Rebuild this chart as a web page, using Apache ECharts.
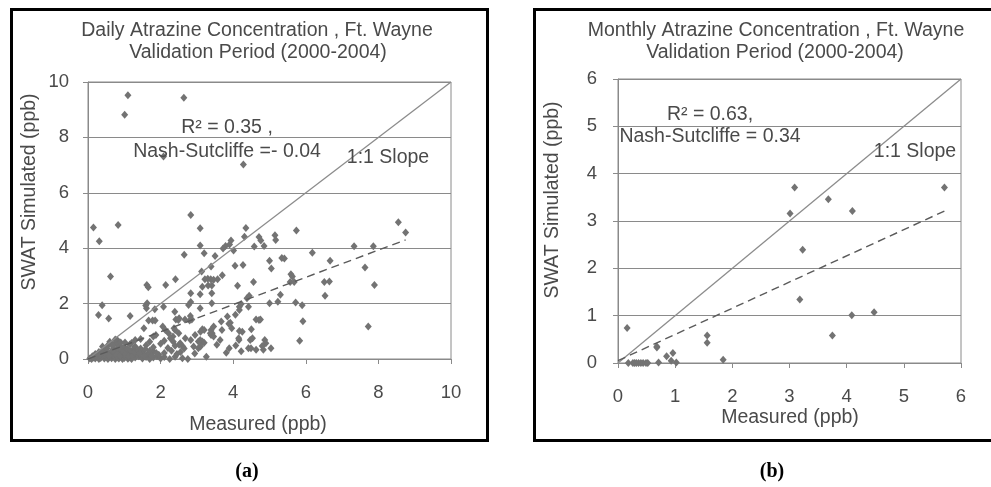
<!DOCTYPE html>
<html>
<head>
<meta charset="utf-8">
<script src="https://cdn.jsdelivr.net/npm/echarts@6/dist/echarts.min.js"></script>
<style>
html,body{margin:0;padding:0;background:#fff;}
#c{width:991px;height:487px;}
</style>
</head>
<body>
<div id="c"></div>
<script>
// ---------- DATA ----------
var dailyTicksX = [0, 2, 4, 6, 8, 10];
var dailyTicksY = [0, 2, 4, 6, 8, 10];
var monthlyTicks = [0, 1, 2, 3, 4, 5, 6];

var dailyPoints = [
  [1.10,9.52],[1.01,8.82],[2.64,9.43],[2.08,7.31],[4.28,7.02],
  [0.15,4.75],[0.31,4.25],[0.83,4.84],[0.62,2.98],[0.39,1.94],[0.29,1.59],[0.57,1.46],[1.16,1.55],
  [2.83,5.2],[3.09,4.72],[4.35,4.73],[4.31,4.41],[5.74,4.64],[5.15,4.47],[5.17,4.3],[4.71,4.4],[4.76,4.28],[4.85,4.08],[4.58,4.06],
  [3.94,4.28],[3.9,4.13],[3.79,4.08],[3.72,3.99],[4.01,3.92],[3.09,4.1],[3.2,3.82],[2.65,3.76],[3.5,3.72],[4.05,3.37],[4.27,3.39],[3.39,3.34],[3.13,3.16],
  [3.22,2.88],[3.3,2.9],[3.38,2.88],[3.46,2.86],[3.15,2.61],[3.31,2.65],[3.41,2.65],[3.7,3.02],[3.57,2.88],[4.12,2.64],[4.56,2.78],
  [5.0,3.55],[5.05,3.27],[5.34,3.65],[5.41,3.63],[5.59,3.06],[5.63,2.98],[5.57,2.78],[5.68,2.78],[6.18,3.84],[6.67,3.55],[6.51,2.78],[6.65,2.8],[6.53,2.28],
  [7.33,4.07],[7.86,4.07],[8.55,4.94],[8.75,4.57],[7.63,3.3],[7.89,2.67],[7.72,1.17],
  [5.72,2.04],[5.9,1.94],[5.92,1.36],[5.83,0.66],[5.0,2.01],[5.23,2.07],[5.3,2.32],[4.38,2.19],[4.44,2.28],[4.17,1.89],[4.22,1.99],[4.17,1.77],[4.42,1.89],[4.06,1.6],[3.92,1.31],[4.5,1.07],[4.17,1.01],[4.25,0.98],[4.63,1.43],[4.71,1.41],[4.75,1.43],[4.53,0.75],[4.16,0.69],[4.07,0.49],[4.22,0.28],[4.42,0.39],[4.49,0.39],[4.63,0.33],[4.83,0.33],[4.87,0.69],[4.9,0.57],[5.04,0.39],[4.8,0.47],
  [3.84,1.53],[3.88,1.27],[3.67,1.35],[3.64,0.69],[3.81,0.23],[3.89,0.39],[3.55,0.51],[3.42,0.93],[3.39,0.87],[3.15,1.07],[3.2,1.05],[3.1,0.98],[3.09,0.69],[3.15,0.63],[3.2,0.59],[3.04,0.39],[3.1,0.45],[3.26,0.08],[2.75,0.0],[2.94,0.2],[2.91,0.45],[2.83,0.69],
  [3.09,1.83],[3.09,2.34],[2.83,2.37],[2.83,2.06],[2.77,1.95],[2.86,1.43],[2.8,1.39],[2.67,1.43],[2.39,1.71],[2.41,2.88],[2.14,2.67],[2.08,1.89],[2.06,1.17],
  [1.62,2.67],[1.66,2.59],[1.59,1.93],[1.63,2.01],[1.61,1.83],[1.84,1.8],[1.54,1.11],[1.67,1.39],[1.78,1.39],[1.85,1.39],[2.22,0.93],[2.37,1.11],[2.5,0.93],[2.34,0.81],[2.27,0.75],[2.51,0.51],[2.61,0.45],
  [3.41,2.01],[3.41,2.37],[3.46,1.17],[3.39,1.05],[2.42,1.43],[2.51,1.47],[2.82,1.55],
  [2.13,1.05],[2.4,1.05],[2.49,1.41],[0.8,0.69],[0.84,0.63],[1.3,0.69],[1.8,0.81],[1.87,0.87],[2.68,0.75],[2.54,0.57],[2.95,0.87],[3.04,0.63],
  [3.37,0.93],[3.46,0.81],[3.69,1.05],[3.96,1.11],[4.15,0.75],[4.47,0.69],
  [0.05,0.02],[0.1,0.0],[0.15,0.05],[0.2,0.02],[0.25,0.08],[0.3,0.0],[0.35,0.04],[0.4,0.1],[0.45,0.02],[0.5,0.06],[0.55,0.0],[0.6,0.08],[0.65,0.03],[0.7,0.1],[0.75,0.0],[0.8,0.05],[0.85,0.02],[0.9,0.09],[0.95,0.0],[1.0,0.04],[1.05,0.08],[1.1,0.01],[1.15,0.06],[1.2,0.0],[1.3,0.05],[1.4,0.1],[1.5,0.02],[1.6,0.07],[1.7,0.0],[1.8,0.05],[1.9,0.1],[2.0,0.02],[2.1,0.07],[2.25,0.0],[2.4,0.08],[2.6,0.03],
  [0.2,0.18],[0.3,0.25],[0.4,0.15],[0.5,0.28],[0.6,0.2],[0.7,0.15],[0.8,0.3],[0.9,0.22],[1.0,0.15],[1.1,0.28],[1.2,0.2],[1.35,0.15],[1.5,0.25],[1.65,0.18],[1.8,0.28],[1.95,0.15],[2.1,0.22],[2.3,0.3],[2.45,0.18],[2.55,0.25],[1.25,0.35],[0.95,0.4],
  [0.4,0.45],[0.55,0.5],[0.7,0.4],[0.85,0.5],[1.0,0.42],[1.15,0.52],[1.3,0.45],[1.45,0.38],[1.6,0.5],[1.8,0.42],[2.0,0.55],[2.2,0.4],[2.4,0.48],[2.65,0.38],[0.6,0.55],[0.75,0.58],
  [0.6,0.62],[0.75,0.7],[0.9,0.6],[1.45,0.72],[1.7,0.62],[2.1,0.66],[2.35,0.62],
  [0.12,0.1],[0.22,0.12],[0.33,0.14],[0.42,0.3],[0.48,0.2],[0.52,0.38],[0.58,0.12],[0.66,0.3],[0.72,0.24],[0.78,0.14],[0.82,0.4],[0.88,0.12],[0.92,0.32],[0.98,0.25],[1.04,0.18],[1.08,0.36],[1.12,0.1],[1.18,0.3],[1.22,0.12],[1.28,0.25],[1.38,0.32],[1.42,0.2],[1.55,0.12],[1.58,0.35],[1.7,0.3],[1.75,0.12],[1.88,0.22],[1.02,0.6],[0.68,0.5],[1.2,0.58]
];
var dailyOneToOne = [[0,0],[10,10]];
var dailyTrend = [[0,0.0],[8.75,4.3]];

var monthlyPoints = [
  [0.16,0.74],[0.18,0],[0.26,0],[0.29,0],[0.32,0],[0.36,0],[0.40,0],[0.44,0],[0.49,0],[0.52,0],
  [0.71,0.01],[0.68,0.35],[0.68,0.33],[0.85,0.14],[0.93,0.05],[0.96,0.21],[1.02,0.01],
  [1.56,0.58],[1.56,0.43],[1.84,0.07],
  [3.01,3.16],[3.09,3.71],[3.18,1.34],[3.23,2.39],[3.68,3.46],[3.75,0.58],[4.10,3.21],[4.09,1.01],[4.48,1.07],[5.71,3.71]
];
var monthlyOneToOne = [[0,0],[6,6]];
var monthlyTrend = [[0,0.05],[5.71,3.21]];

var texts = {
  titleA1: 'Daily Atrazine Concentration , Ft. Wayne',
  titleA2: 'Validation Period (2000-2004)',
  titleB1: 'Monthly Atrazine Concentration , Ft. Wayne',
  titleB2: 'Validation Period (2000-2004)',
  xName: 'Measured (ppb)',
  yName: 'SWAT Simulated (ppb)',
  r2A: 'R² = 0.35 ,',
  nsA: 'Nash-Sutcliffe =- 0.04',
  r2B: 'R² = 0.63,',
  nsB: 'Nash-Sutcliffe = 0.34',
  slope: '1:1 Slope',
  labA: '(a)',
  labB: '(b)'
};

// ---------- STYLE ----------
var FONT = '"Liberation Sans", Arial, sans-serif';
var TXT = '#4a4a4a';
var GRID = '#8a8a8a';
var PT = '#737373';

function axisCommon(extra) {
  var o = {
    type: 'value',
    axisLine: { show: true, lineStyle: { color: GRID, width: 1 } },
    axisTick: { show: true, length: 5, inside: false, lineStyle: { color: GRID } },
    axisLabel: { color: TXT, fontFamily: FONT, fontSize: 18 },
    splitLine: { show: false }
  };
  for (var k in extra) o[k] = extra[k];
  return o;
}

function txt(text, x, y, size, opts) {
  opts = opts || {};
  return {
    type: 'text',
    x: x, y: y,
    rotation: opts.rotation || 0,
    z: 100,
    style: {
      text: text,
      fill: opts.fill || TXT,
      font: (opts.weight || 'normal') + ' ' + size + 'px ' + (opts.family || FONT),
      textAlign: 'center',
      textVerticalAlign: 'middle'
    }
  };
}

var chart = echarts.init(document.getElementById('c'), null, { renderer: 'canvas' });

var option = {
  backgroundColor: '#fff',
  animation: false,
  grid: [
    { left: 88, top: 82, width: 363, height: 277, show: true, borderColor: GRID, borderWidth: 1,
      containLabel: false, outerBoundsMode: 'none' },
    { left: 618, top: 79, width: 343, height: 284, show: true, borderColor: GRID, borderWidth: 1,
      containLabel: false, outerBoundsMode: 'none' }
  ],
  xAxis: [
    axisCommon({ gridIndex: 0, min: dailyTicksX[0], max: dailyTicksX[dailyTicksX.length-1], interval: 2,
      axisLabel: { color: TXT, fontFamily: FONT, fontSize: 18.5, margin: 24 } }),
    axisCommon({ gridIndex: 1, min: monthlyTicks[0], max: monthlyTicks[monthlyTicks.length-1], interval: 1,
      axisLabel: { color: TXT, fontFamily: FONT, fontSize: 18.5, margin: 24 } })
  ],
  yAxis: [
    axisCommon({ gridIndex: 0, min: dailyTicksY[0], max: dailyTicksY[dailyTicksY.length-1], interval: 2,
      axisLabel: { color: TXT, fontFamily: FONT, fontSize: 18.5, margin: 19 },
      splitLine: { show: true, lineStyle: { color: GRID, width: 1 } } }),
    axisCommon({ gridIndex: 1, min: monthlyTicks[0], max: monthlyTicks[monthlyTicks.length-1], interval: 1,
      axisLabel: { color: TXT, fontFamily: FONT, fontSize: 18.5, margin: 21 },
      splitLine: { show: true, lineStyle: { color: GRID, width: 1 } } })
  ],
  series: [
    { type: 'line', xAxisIndex: 0, yAxisIndex: 0, data: dailyOneToOne, symbol: 'none', silent: true,
      lineStyle: { color: '#8c8c8c', width: 1.3 }, z: 3 },
    { type: 'line', xAxisIndex: 0, yAxisIndex: 0, data: dailyTrend, symbol: 'none', silent: true,
      lineStyle: { color: '#5a5a5a', width: 1.4, type: [8, 5] }, z: 4 },
    { type: 'scatter', xAxisIndex: 0, yAxisIndex: 0, data: dailyPoints, symbol: 'diamond', symbolSize: [7, 8],
      itemStyle: { color: PT, opacity: 1 }, z: 2 },
    { type: 'line', xAxisIndex: 1, yAxisIndex: 1, data: monthlyOneToOne, symbol: 'none', silent: true,
      lineStyle: { color: '#8c8c8c', width: 1.3 }, z: 3 },
    { type: 'line', xAxisIndex: 1, yAxisIndex: 1, data: monthlyTrend, symbol: 'none', silent: true,
      lineStyle: { color: '#5a5a5a', width: 1.4, type: [8, 5] }, z: 4 },
    { type: 'scatter', xAxisIndex: 1, yAxisIndex: 1, data: monthlyPoints, symbol: 'diamond', symbolSize: [7, 8],
      itemStyle: { color: PT, opacity: 1 }, z: 2 }
  ],
  graphic: [
    { type: 'rect', shape: { x: 11.5, y: 9.5, width: 476, height: 431 }, z: 90,
      style: { fill: 'none', stroke: '#000', lineWidth: 3 } },
    { type: 'rect', shape: { x: 534.5, y: 9.5, width: 470, height: 431 }, z: 90,
      style: { fill: 'none', stroke: '#000', lineWidth: 3 } },
    txt(texts.titleA1, 257, 31, 19.5),
    txt(texts.titleA2, 258, 53, 19.5),
    txt(texts.titleB1, 776, 31, 19.5),
    txt(texts.titleB2, 775, 53, 19.5),
    txt(texts.yName, 30, 192, 19.5, { rotation: Math.PI / 2 }),
    txt(texts.xName, 258, 425, 19.5),
    txt(texts.yName, 553, 200, 19.5, { rotation: Math.PI / 2 }),
    txt(texts.xName, 790, 418, 19.5),
    txt(texts.r2A, 227, 128, 19.5),
    txt(texts.nsA, 227, 152, 19.5),
    txt(texts.slope, 388, 158, 19.5),
    txt(texts.r2B, 710, 115, 19.5),
    txt(texts.nsB, 710, 137, 19.5),
    txt(texts.slope, 915, 152, 19.5),
    txt(texts.labA, 247, 472, 20, { weight: 'bold', family: '"Liberation Serif", "Times New Roman", serif', fill: '#000' }),
    txt(texts.labB, 772, 472, 20, { weight: 'bold', family: '"Liberation Serif", "Times New Roman", serif', fill: '#000' })
  ]
};
chart.setOption(option);
</script>
</body>
</html>
